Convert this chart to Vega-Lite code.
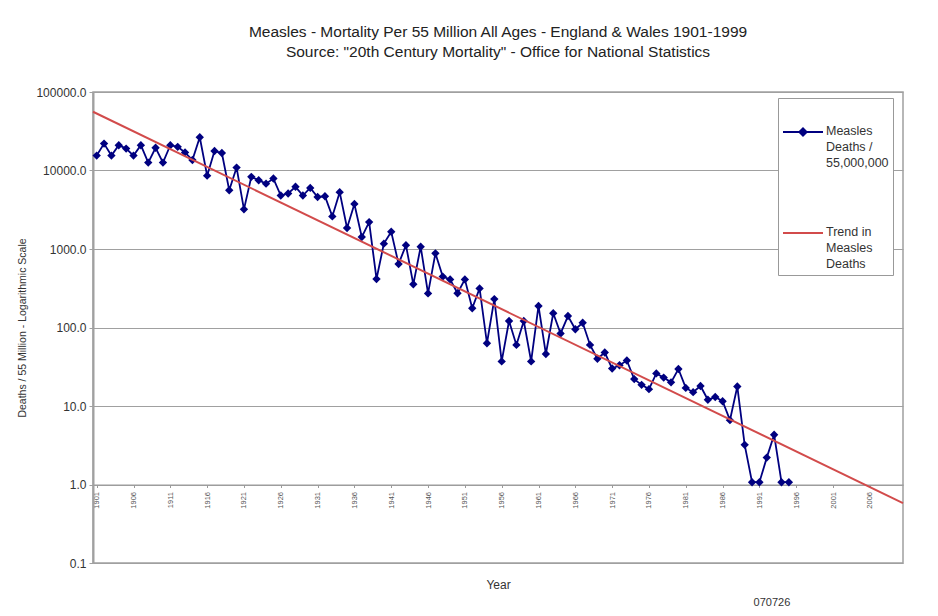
{
  "$schema": "https://vega.github.io/schema/vega-lite/v6.json",
  "width": 810,
  "height": 471,
  "autosize": {"type": "none"},
  "padding": {"left": 93, "top": 92, "right": 35, "bottom": 53},
  "background": "white",
  "title": {
    "text": ["Measles - Mortality Per 55 Million All Ages - England & Wales 1901-1999", "Source: \"20th Century Mortality\" - Office for National Statistics"],
    "anchor": "middle",
    "font": "Liberation Sans",
    "fontSize": 15.5,
    "fontWeight": "normal",
    "color": "#222222",
    "lineHeight": 20,
    "offset": 26
  },
  "datasets": {
    "series": [
      {"year": 1901, "value": 15500, "series": "Measles"},
      {"year": 1902, "value": 22000, "series": "Measles"},
      {"year": 1903, "value": 15500, "series": "Measles"},
      {"year": 1904, "value": 21000, "series": "Measles"},
      {"year": 1905, "value": 19000, "series": "Measles"},
      {"year": 1906, "value": 15500, "series": "Measles"},
      {"year": 1907, "value": 21000, "series": "Measles"},
      {"year": 1908, "value": 12600, "series": "Measles"},
      {"year": 1909, "value": 19500, "series": "Measles"},
      {"year": 1910, "value": 12600, "series": "Measles"},
      {"year": 1911, "value": 21000, "series": "Measles"},
      {"year": 1912, "value": 20000, "series": "Measles"},
      {"year": 1913, "value": 17000, "series": "Measles"},
      {"year": 1914, "value": 13600, "series": "Measles"},
      {"year": 1915, "value": 26500, "series": "Measles"},
      {"year": 1916, "value": 8600, "series": "Measles"},
      {"year": 1917, "value": 17700, "series": "Measles"},
      {"year": 1918, "value": 16700, "series": "Measles"},
      {"year": 1919, "value": 5600, "series": "Measles"},
      {"year": 1920, "value": 10900, "series": "Measles"},
      {"year": 1921, "value": 3200, "series": "Measles"},
      {"year": 1922, "value": 8300, "series": "Measles"},
      {"year": 1923, "value": 7500, "series": "Measles"},
      {"year": 1924, "value": 6800, "series": "Measles"},
      {"year": 1925, "value": 7900, "series": "Measles"},
      {"year": 1926, "value": 4800, "series": "Measles"},
      {"year": 1927, "value": 5100, "series": "Measles"},
      {"year": 1928, "value": 6200, "series": "Measles"},
      {"year": 1929, "value": 4800, "series": "Measles"},
      {"year": 1930, "value": 6000, "series": "Measles"},
      {"year": 1931, "value": 4600, "series": "Measles"},
      {"year": 1932, "value": 4700, "series": "Measles"},
      {"year": 1933, "value": 2600, "series": "Measles"},
      {"year": 1934, "value": 5300, "series": "Measles"},
      {"year": 1935, "value": 1850, "series": "Measles"},
      {"year": 1936, "value": 3750, "series": "Measles"},
      {"year": 1937, "value": 1420, "series": "Measles"},
      {"year": 1938, "value": 2200, "series": "Measles"},
      {"year": 1939, "value": 415, "series": "Measles"},
      {"year": 1940, "value": 1170, "series": "Measles"},
      {"year": 1941, "value": 1660, "series": "Measles"},
      {"year": 1942, "value": 645, "series": "Measles"},
      {"year": 1943, "value": 1120, "series": "Measles"},
      {"year": 1944, "value": 355, "series": "Measles"},
      {"year": 1945, "value": 1070, "series": "Measles"},
      {"year": 1946, "value": 272, "series": "Measles"},
      {"year": 1947, "value": 880, "series": "Measles"},
      {"year": 1948, "value": 445, "series": "Measles"},
      {"year": 1949, "value": 410, "series": "Measles"},
      {"year": 1950, "value": 273, "series": "Measles"},
      {"year": 1951, "value": 410, "series": "Measles"},
      {"year": 1952, "value": 176, "series": "Measles"},
      {"year": 1953, "value": 315, "series": "Measles"},
      {"year": 1954, "value": 63, "series": "Measles"},
      {"year": 1955, "value": 230, "series": "Measles"},
      {"year": 1956, "value": 37, "series": "Measles"},
      {"year": 1957, "value": 121, "series": "Measles"},
      {"year": 1958, "value": 60, "series": "Measles"},
      {"year": 1959, "value": 121, "series": "Measles"},
      {"year": 1960, "value": 37, "series": "Measles"},
      {"year": 1961, "value": 188, "series": "Measles"},
      {"year": 1962, "value": 46, "series": "Measles"},
      {"year": 1963, "value": 152, "series": "Measles"},
      {"year": 1964, "value": 84, "series": "Measles"},
      {"year": 1965, "value": 140, "series": "Measles"},
      {"year": 1966, "value": 95, "series": "Measles"},
      {"year": 1967, "value": 115, "series": "Measles"},
      {"year": 1968, "value": 60, "series": "Measles"},
      {"year": 1969, "value": 40, "series": "Measles"},
      {"year": 1970, "value": 48, "series": "Measles"},
      {"year": 1971, "value": 30, "series": "Measles"},
      {"year": 1972, "value": 33, "series": "Measles"},
      {"year": 1973, "value": 38, "series": "Measles"},
      {"year": 1974, "value": 22, "series": "Measles"},
      {"year": 1975, "value": 18.6, "series": "Measles"},
      {"year": 1976, "value": 16.4, "series": "Measles"},
      {"year": 1977, "value": 26, "series": "Measles"},
      {"year": 1978, "value": 23, "series": "Measles"},
      {"year": 1979, "value": 20, "series": "Measles"},
      {"year": 1980, "value": 29.6, "series": "Measles"},
      {"year": 1981, "value": 17, "series": "Measles"},
      {"year": 1982, "value": 15, "series": "Measles"},
      {"year": 1983, "value": 18, "series": "Measles"},
      {"year": 1984, "value": 12, "series": "Measles"},
      {"year": 1985, "value": 13, "series": "Measles"},
      {"year": 1986, "value": 11.5, "series": "Measles"},
      {"year": 1987, "value": 6.6, "series": "Measles"},
      {"year": 1988, "value": 17.7, "series": "Measles"},
      {"year": 1989, "value": 3.2, "series": "Measles"},
      {"year": 1990, "value": 1.07, "series": "Measles"},
      {"year": 1991, "value": 1.07, "series": "Measles"},
      {"year": 1992, "value": 2.2, "series": "Measles"},
      {"year": 1993, "value": 4.3, "series": "Measles"},
      {"year": 1994, "value": 1.07, "series": "Measles"},
      {"year": 1995, "value": 1.07, "series": "Measles"},
      {"year": 1900.5, "value": 56000, "series": "Trend"},
      {"year": 2010.5, "value": 0.58, "series": "Trend"}
    ],
    "notes": [
      {"note": "070726"}
    ]
  },
  "resolve": {"axis": {"x": "independent", "y": "independent"}},
  "layer": [
    {
      "encoding": {
        "x": {
          "field": "year",
          "type": "quantitative",
          "scale": {"domain": [1900.5, 2010.5], "nice": false, "zero": false},
          "axis": {
            "values": [1901, 1906, 1911, 1916, 1921, 1926, 1931, 1936, 1941, 1946, 1951, 1956, 1961, 1966, 1971, 1976, 1981, 1986, 1991, 1996, 2001, 2006],
            "format": "d",
            "labelAngle": 270,
            "labelFontSize": 7.5,
            "labelColor": "#555555",
            "labelOverlap": false,
            "labelFlush": false,
            "grid": false,
            "offset": -78.5,
            "domainColor": "#9a9a9a",
            "tickColor": "#9a9a9a",
            "tickSize": 3,
            "labelPadding": 4,
            "title": "Year",
            "titleFontSize": 12,
            "titleFontWeight": "normal",
            "titleColor": "#333333",
            "titlePadding": 71
          }
        },
        "y": {
          "field": "value",
          "type": "quantitative",
          "scale": {"type": "log", "domain": [0.1, 100000], "nice": false},
          "axis": {
            "values": [0.1, 1, 10, 100, 1000, 10000, 100000],
            "format": ".1f",
            "grid": true,
            "gridColor": "#a0a0a0",
            "gridWidth": 1,
            "domainColor": "#a0a0a0",
            "domainWidth": 2,
            "tickColor": "#a0a0a0",
            "tickSize": 4,
            "labelPadding": 3,
            "labelFontSize": 12,
            "labelColor": "#333333",
            "labelOverlap": false,
            "title": "Deaths / 55 Million - Logarithmic Scale",
            "titleFontSize": 10.5,
            "titleFontWeight": "normal",
            "titleColor": "#333333",
            "titlePadding": 8
          }
        }
      },
      "layer": [
        {
          "data": {"name": "series"},
          "transform": [{"filter": "datum.series === 'Measles'"}],
          "mark": {"type": "line", "strokeWidth": 1.8},
          "encoding": {
            "color": {
              "field": "series",
              "type": "nominal",
              "scale": {"domain": ["Measles", "Trend"], "range": ["#000080", "#d24b4b"]},
              "legend": {
                "orient": "none",
                "legendX": 685,
                "legendY": 6,
                "title": " ",
                "titleFontSize": 6,
                "titlePadding": 3,
                "strokeColor": "#999999",
                "fillColor": "white",
                "padding": 4,
                "symbolType": "stroke",
                "symbolSize": 1600,
                "symbolStrokeWidth": 2,
                "labelFont": "Liberation Sans",
                "labelFontSize": 12.5,
                "labelColor": "#333333",
                "labelOffset": 2,
                "labelBaseline": "top",
                "rowPadding": 42,
                "labelExpr": "datum.value == 'Measles' ? ['Measles', 'Deaths /', '55,000,000'] : ['Trend in', 'Measles', 'Deaths']",
                "encode": {
                  "symbols": {
                    "update": {
                      "shape": {"signal": "datum.value == 'Measles' ? 'M-1,0H1M-0.18,0L0,-0.18L0.18,0L0,0.18Z' : 'M-1,0H1'"},
                      "fill": {"signal": "datum.value == 'Measles' ? '#000080' : 'transparent'"}
                    }
                  },
                  "labels": {
                    "update": {
                      "lineHeight": {"value": 16},
                      "dy": {"value": -7}
                    }
                  }
                }
              }
            }
          }
        },
        {
          "data": {"name": "series"},
          "transform": [{"filter": "datum.series === 'Measles'"}],
          "mark": {"type": "point", "shape": "diamond", "filled": true, "size": 70, "color": "#000080", "opacity": 1}
        },
        {
          "data": {"name": "series"},
          "transform": [{"filter": "datum.series === 'Trend'"}],
          "mark": {"type": "line", "strokeWidth": 2},
          "encoding": {
            "color": {"field": "series", "type": "nominal"}
          }
        }
      ]
    },
    {
      "data": {"name": "notes"},
      "mark": {"type": "text", "fontSize": 11, "color": "#333333", "align": "center", "baseline": "middle", "clip": false},
      "encoding": {
        "x": {"datum": 1992.7, "type": "quantitative", "axis": null},
        "y": {"datum": 0.0309, "type": "quantitative", "axis": null},
        "text": {"field": "note", "type": "nominal"}
      }
    }
  ],
  "config": {
    "font": "Liberation Sans",
    "view": {"stroke": "#a0a0a0", "strokeWidth": 1.5}
  }
}
